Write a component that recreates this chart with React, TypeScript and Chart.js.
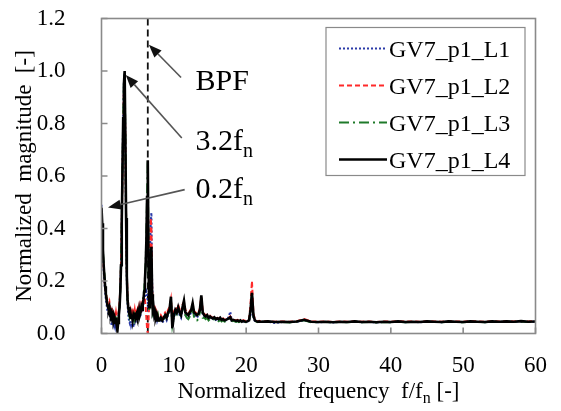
import React, { useEffect, useRef } from "react";
import { Chart, registerables } from "chart.js";

Chart.register(...registerables);

const SERIF = "'Liberation Serif', 'Times New Roman', Times, serif";

// ---------- data ----------
const freqLow = [
  0, 0.1, 0.2, 0.3, 0.4, 0.5, 0.6, 0.7, 0.8, 0.9,
  1.0, 1.1, 1.2, 1.3, 1.4, 1.5, 1.6, 1.7, 1.8, 1.9,
  2.0, 2.1, 2.2, 2.3, 2.4, 2.5, 2.6, 2.7, 2.8, 2.9,
  3.0, 3.1, 3.2, 3.3, 3.4, 3.5, 3.6, 3.7, 3.8, 3.9,
  4.0, 4.1, 4.2, 4.3, 4.4, 4.5, 4.6, 4.7, 4.8, 4.9,
  5.0, 5.1, 5.2, 5.3, 5.4, 5.5, 5.6, 5.7, 5.8, 5.9,
  6.0, 6.1, 6.2, 6.3, 6.4, 6.5, 6.6, 6.7, 6.8, 6.9,
  7.0, 7.1, 7.2, 7.3, 7.4, 7.5, 7.6, 7.7, 7.8, 7.9,
  8.0,
];
const freqMid = [
  8.2, 8.4, 8.6, 8.8, 9.0, 9.2, 9.4, 9.6, 9.8, 10.0,
  10.2, 10.4, 10.6, 10.8, 11.0, 11.2, 11.4, 11.6, 11.8, 12.0,
  12.2, 12.4, 12.6, 12.8, 13.0, 13.2, 13.4, 13.6, 13.8, 14.0,
  14.2, 14.4, 14.6, 14.8, 15.0, 15.2, 15.4, 15.6, 15.8, 16.0,
  16.2, 16.4, 16.6, 16.8, 17.0, 17.2, 17.4, 17.6, 17.8, 18.0,
  18.2, 18.4, 18.6, 18.8, 19.0, 19.2, 19.4, 19.6, 19.8, 20.0,
  20.2, 20.4, 20.6, 20.8, 21.0, 21.2, 21.4, 21.6, 21.8, 22.0,
];
const freqHigh = [
  23, 24, 25, 26, 27, 28, 29, 30, 31, 32,
  33, 34, 35, 36, 37, 38, 39, 40, 41, 42,
  43, 44, 45, 46, 47, 48, 49, 50, 51, 52,
  53, 54, 55, 56, 57, 58, 59, 60,
];

// GV7_p1_L1 (blue dotted)
const l1Low = [
  0.49, 0.40, 0.30, 0.24, 0.20, 0.16, 0.13, 0.11, 0.09, 0.08,
  0.07, 0.08, 0.06, 0.05, 0.03, 0.05, 0.04, 0.03, 0.05, 0.03,
  0.05, 0.04, 0.03, 0.05, 0.08, 0.11, 0.17, 0.27, 0.43, 0.63,
  0.83, 0.96, 0.99, 0.72, 0.42, 0.20, 0.11, 0.07, 0.05, 0.04,
  0.05, 0.03, 0.04, 0.025, 0.03, 0.025, 0.05, 0.04, 0.06, 0.05,
  0.07, 0.06, 0.08, 0.06, 0.07, 0.08, 0.09, 0.10, 0.11, 0.12,
  0.14, 0.15, 0.16, 0.15, 0.12, 0.08, 0.16, 0.30, 0.42, 0.46,
  0.20, 0.10, 0.09, 0.07, 0.08, 0.06, 0.07, 0.05, 0.06, 0.05,
  0.05,
];
const l1Mid = [
  0.05, 0.04, 0.05, 0.06, 0.05, 0.07, 0.08, 0.12, 0.04, 0.06,
  0.08, 0.07, 0.09, 0.07, 0.06, 0.09, 0.11, 0.07, 0.065, 0.06,
  0.07, 0.08, 0.10, 0.07, 0.065, 0.06, 0.07, 0.085, 0.13, 0.07,
  0.065, 0.06, 0.065, 0.055, 0.06, 0.058, 0.055, 0.06, 0.052, 0.055,
  0.05, 0.055, 0.05, 0.052, 0.048, 0.05, 0.054, 0.065, 0.083, 0.05,
  0.05, 0.048, 0.046, 0.048, 0.045, 0.048, 0.044, 0.046, 0.045, 0.044,
  0.046, 0.048, 0.07, 0.12, 0.06, 0.048, 0.045, 0.044, 0.045, 0.044,
];
const l1High = [
  0.045, 0.040, 0.044, 0.043, 0.045, 0.050, 0.044, 0.043, 0.044, 0.042,
  0.044, 0.043, 0.045, 0.043, 0.044, 0.042, 0.044, 0.043, 0.045, 0.043,
  0.044, 0.043, 0.045, 0.044, 0.043, 0.045, 0.044, 0.043, 0.045, 0.044,
  0.043, 0.045, 0.044, 0.045, 0.044, 0.046, 0.044, 0.045,
];

// GV7_p1_L2 (red dashed)
const l2Low = [
  0.45, 0.38, 0.30, 0.25, 0.21, 0.18, 0.16, 0.14, 0.13, 0.12,
  0.11, 0.12, 0.10, 0.09, 0.10, 0.08, 0.09, 0.07, 0.08, 0.06,
  0.08, 0.06, 0.05, 0.07, 0.09, 0.12, 0.17, 0.27, 0.42, 0.60,
  0.80, 0.93, 0.97, 0.73, 0.45, 0.24, 0.14, 0.11, 0.09, 0.08,
  0.09, 0.07, 0.08, 0.06, 0.08, 0.07, 0.09, 0.07, 0.08, 0.07,
  0.09, 0.08, 0.10, 0.08, 0.09, 0.11, 0.10, 0.12, 0.13, 0.14,
  0.13, 0.10, 0.06, 0.02, 0.00, 0.04, 0.16, 0.32, 0.44, 0.40,
  0.18, 0.09, 0.11, 0.08, 0.09, 0.07, 0.08, 0.06, 0.07, 0.06,
  0.06,
];
const l2Mid = [
  0.07, 0.06, 0.07, 0.08, 0.07, 0.09, 0.10, 0.13, 0.05, 0.08,
  0.10, 0.09, 0.11, 0.09, 0.08, 0.11, 0.12, 0.09, 0.08, 0.075,
  0.085, 0.095, 0.11, 0.085, 0.08, 0.075, 0.08, 0.095, 0.14, 0.085,
  0.075, 0.07, 0.072, 0.065, 0.068, 0.062, 0.06, 0.064, 0.058, 0.06,
  0.056, 0.062, 0.054, 0.057, 0.052, 0.055, 0.057, 0.06, 0.065, 0.053,
  0.054, 0.052, 0.05, 0.052, 0.049, 0.052, 0.048, 0.05, 0.049, 0.047,
  0.049, 0.055, 0.11, 0.20, 0.08, 0.052, 0.048, 0.047, 0.048, 0.046,
];
const l2High = [
  0.047, 0.045, 0.046, 0.045, 0.047, 0.055, 0.046, 0.045, 0.046, 0.044,
  0.046, 0.045, 0.047, 0.045, 0.046, 0.044, 0.046, 0.045, 0.047, 0.045,
  0.046, 0.045, 0.047, 0.046, 0.045, 0.047, 0.046, 0.045, 0.047, 0.046,
  0.045, 0.047, 0.046, 0.047, 0.046, 0.048, 0.046, 0.047,
];

// GV7_p1_L3 (green dash-dot)
const l3Low = [
  0.46, 0.41, 0.31, 0.27, 0.23, 0.19, 0.16, 0.13, 0.12, 0.10,
  0.10, 0.09, 0.09, 0.08, 0.07, 0.07, 0.06, 0.06, 0.05, 0.05,
  0.07, 0.05, 0.03, 0.05, 0.08, 0.11, 0.17, 0.27, 0.43, 0.63,
  0.83, 0.96, 0.99, 0.75, 0.45, 0.23, 0.13, 0.09, 0.07, 0.06,
  0.07, 0.05, 0.06, 0.05, 0.06, 0.05, 0.07, 0.06, 0.06, 0.06,
  0.07, 0.07, 0.08, 0.08, 0.09, 0.09, 0.10, 0.12, 0.14, 0.17,
  0.21, 0.27, 0.36, 0.53, 0.66, 0.27, 0.09, 0.12, 0.22, 0.28,
  0.14, 0.08, 0.09, 0.08, 0.07, 0.07, 0.06, 0.06, 0.07, 0.05,
  0.05,
];
const l3Mid = [
  0.06, 0.05, 0.055, 0.065, 0.06, 0.075, 0.085, 0.13, 0.03, 0.06,
  0.085, 0.075, 0.095, 0.075, 0.065, 0.09, 0.115, 0.07, 0.06, 0.055,
  0.065, 0.07, 0.10, 0.06, 0.05, 0.05, 0.055, 0.08, 0.14, 0.06,
  0.06, 0.055, 0.06, 0.05, 0.055, 0.052, 0.05, 0.055, 0.048, 0.05,
  0.047, 0.052, 0.046, 0.05, 0.045, 0.047, 0.05, 0.055, 0.06, 0.046,
  0.048, 0.046, 0.044, 0.046, 0.043, 0.046, 0.042, 0.045, 0.044, 0.043,
  0.045, 0.048, 0.085, 0.15, 0.065, 0.048, 0.045, 0.043, 0.045, 0.044,
];
const l3High = [
  0.045, 0.043, 0.044, 0.042, 0.045, 0.050, 0.043, 0.043, 0.044, 0.042,
  0.044, 0.043, 0.045, 0.043, 0.044, 0.042, 0.044, 0.043, 0.045, 0.043,
  0.044, 0.043, 0.045, 0.044, 0.043, 0.045, 0.044, 0.043, 0.045, 0.044,
  0.043, 0.045, 0.044, 0.045, 0.044, 0.046, 0.044, 0.045,
];

// GV7_p1_L4 (black solid)
const l4Low = [
  0.48, 0.42, 0.32, 0.26, 0.22, 0.18, 0.15, 0.13, 0.11, 0.10,
  0.09, 0.10, 0.08, 0.07, 0.08, 0.06, 0.07, 0.05, 0.06, 0.04,
  0.06, 0.03, 0.01, 0.04, 0.07, 0.10, 0.16, 0.26, 0.42, 0.62,
  0.82, 0.95, 1.00, 0.74, 0.44, 0.22, 0.13, 0.10, 0.08, 0.07,
  0.08, 0.06, 0.07, 0.05, 0.07, 0.06, 0.08, 0.06, 0.07, 0.06,
  0.08, 0.07, 0.09, 0.07, 0.08, 0.10, 0.09, 0.11, 0.13, 0.16,
  0.20, 0.26, 0.35, 0.52, 0.66, 0.28, 0.10, 0.15, 0.27, 0.33,
  0.15, 0.09, 0.10, 0.07, 0.08, 0.06, 0.07, 0.05, 0.06, 0.05,
  0.05,
];
const l4Mid = [
  0.06, 0.05, 0.06, 0.07, 0.06, 0.08, 0.09, 0.14, 0.02, 0.07,
  0.09, 0.08, 0.10, 0.08, 0.07, 0.10, 0.125, 0.08, 0.075, 0.07,
  0.08, 0.09, 0.115, 0.08, 0.075, 0.07, 0.075, 0.09, 0.145, 0.08,
  0.07, 0.065, 0.07, 0.06, 0.065, 0.06, 0.058, 0.062, 0.055, 0.058,
  0.055, 0.06, 0.052, 0.055, 0.05, 0.052, 0.055, 0.058, 0.062, 0.05,
  0.052, 0.05, 0.048, 0.05, 0.047, 0.05, 0.045, 0.048, 0.046, 0.045,
  0.047, 0.05, 0.09, 0.155, 0.07, 0.05, 0.047, 0.045, 0.046, 0.045,
];
const l4High = [
  0.046, 0.044, 0.045, 0.044, 0.046, 0.052, 0.045, 0.044, 0.045, 0.043,
  0.045, 0.044, 0.046, 0.044, 0.045, 0.043, 0.045, 0.044, 0.046, 0.044,
  0.045, 0.044, 0.046, 0.045, 0.044, 0.046, 0.045, 0.044, 0.046, 0.045,
  0.044, 0.046, 0.045, 0.046, 0.045, 0.047, 0.045, 0.046,
];

const seriesLabels = ["GV7_p1_L1", "GV7_p1_L2", "GV7_p1_L3", "GV7_p1_L4"];

// axis ranges
const X_MIN = 0;
const X_MAX = 60;
const X_STEP = 10;
const Y_MIN = 0;
const Y_MAX = 1.2;
const Y_STEP = 0.2;

// blade passing frequency marker (f/fn)
const BPF_VALUE = 6.4;

// annotations, in data coordinates: arrow head, arrow tail, text anchor
const annotations = [
  { main: "BPF", sub: "", head: [6.55, 1.1], tail: [11.0, 0.975], text: [13.0, 0.966] },
  { main: "3.2f", sub: "n", head: [3.35, 0.985], tail: [11.1, 0.745], text: [13.0, 0.737] },
  { main: "0.2f", sub: "n", head: [0.9, 0.48], tail: [11.5, 0.548], text: [13.0, 0.554] },
];

// ---------- styles ----------
const styles = [
  { color: "#2b3aa8", dash: [2, 2], width: 2 },
  { color: "#ff2a2a", dash: [5, 3], width: 2 },
  { color: "#1f7a2a", dash: [10, 4, 2, 4], width: 2 },
  { color: "#000000", dash: [], width: 2.6 },
];

const freq = [...freqLow, ...freqMid, ...freqHigh];
const seriesValues = [
  [...l1Low, ...l1Mid, ...l1High],
  [...l2Low, ...l2Mid, ...l2High],
  [...l3Low, ...l3Mid, ...l3High],
  [...l4Low, ...l4Mid, ...l4High],
];

function drawSubText(ctx: CanvasRenderingContext2D, x: number, yBase: number, main: string, sub: string, rest: string, size: number, draw = true) {
  let w = 0;
  ctx.font = `${size}px ${SERIF}`;
  if (draw) ctx.fillText(main, x, yBase);
  w += ctx.measureText(main).width;
  if (sub) {
    const s = Math.round(size * 0.68);
    ctx.font = `${s}px ${SERIF}`;
    if (draw) ctx.fillText(sub, x + w, yBase + size * 0.22);
    w += ctx.measureText(sub).width;
  }
  if (rest) {
    ctx.font = `${size}px ${SERIF}`;
    if (draw) ctx.fillText(rest, x + w, yBase);
    w += ctx.measureText(rest).width;
  }
  return w;
}

function drawArrow(ctx: CanvasRenderingContext2D, tx: number, ty: number, hx: number, hy: number) {
  const a = Math.atan2(hy - ty, hx - tx);
  const len = 13;
  const hw = 5;
  const bx = hx - len * Math.cos(a);
  const by = hy - len * Math.sin(a);
  ctx.save();
  ctx.strokeStyle = "#555";
  ctx.lineWidth = 1.6;
  ctx.setLineDash([]);
  ctx.beginPath();
  ctx.moveTo(tx, ty);
  ctx.lineTo(bx, by);
  ctx.stroke();
  ctx.fillStyle = "#111";
  ctx.beginPath();
  ctx.moveTo(hx, hy);
  ctx.lineTo(bx + hw * Math.sin(a), by - hw * Math.cos(a));
  ctx.lineTo(bx - hw * Math.sin(a), by + hw * Math.cos(a));
  ctx.closePath();
  ctx.fill();
  ctx.restore();
}

const decorPlugin = {
  id: "decor",
  beforeDatasetsDraw(chart: any) {
    const { ctx, chartArea: ca, scales } = chart;
    const x = scales.x.getPixelForValue(BPF_VALUE);
    ctx.save();
    ctx.beginPath();
    ctx.setLineDash([7, 4]);
    ctx.lineWidth = 1.8;
    ctx.strokeStyle = "#111";
    ctx.moveTo(x, ca.bottom);
    ctx.lineTo(x, ca.top);
    ctx.stroke();
    ctx.restore();
  },
  afterDraw(chart: any) {
    const { ctx, chartArea: ca, scales } = chart;
    const xs = scales.x;
    const ys = scales.y;
    ctx.save();
    // frame
    ctx.strokeStyle = "#8a8a8a";
    ctx.lineWidth = 1.6;
    ctx.setLineDash([]);
    ctx.strokeRect(ca.left, ca.top, ca.right - ca.left, ca.bottom - ca.top);
    // inward ticks
    ctx.beginPath();
    ys.ticks.forEach((t: any) => {
      const py = ys.getPixelForValue(t.value);
      ctx.moveTo(ca.left, py);
      ctx.lineTo(ca.left + 6, py);
    });
    xs.ticks.forEach((t: any) => {
      const px = xs.getPixelForValue(t.value);
      ctx.moveTo(px, ca.bottom);
      ctx.lineTo(px, ca.bottom - 6);
    });
    ctx.stroke();

    // annotations
    ctx.fillStyle = "#000";
    ctx.textAlign = "left";
    ctx.textBaseline = "alphabetic";
    annotations.forEach((an) => {
      const hx = xs.getPixelForValue(an.head[0]);
      const hy = ys.getPixelForValue(an.head[1]);
      const tx = xs.getPixelForValue(an.tail[0]);
      const ty = ys.getPixelForValue(an.tail[1]);
      drawArrow(ctx, tx, ty, hx, hy);
      const px = xs.getPixelForValue(an.text[0]);
      const py = ys.getPixelForValue(an.text[1]);
      ctx.fillStyle = "#000";
      drawSubText(ctx, px, py + 10, an.main, an.sub, "", 30);
    });

    // legend
    const boxW = 199;
    const boxH = 148;
    const bx = ca.right - 10.5 - boxW;
    const by = ca.top + 9;
    ctx.fillStyle = "#fff";
    ctx.fillRect(bx, by, boxW, boxH);
    ctx.strokeStyle = "#8a8a8a";
    ctx.lineWidth = 1.2;
    ctx.strokeRect(bx, by, boxW, boxH);
    chart.data.datasets.forEach((ds: any, i: number) => {
      const cy = by + 21 + i * 37;
      ctx.beginPath();
      ctx.strokeStyle = ds.borderColor;
      ctx.lineWidth = ds.borderWidth;
      ctx.setLineDash(ds.borderDash || []);
      ctx.moveTo(bx + 13, cy);
      ctx.lineTo(bx + 61, cy);
      ctx.stroke();
      ctx.setLineDash([]);
      ctx.fillStyle = "#000";
      ctx.font = `24px ${SERIF}`;
      ctx.textBaseline = "alphabetic";
      ctx.fillText(ds.label, bx + 63, cy + 8);
    });

    // x title
    ctx.fillStyle = "#000";
    const xMain = "Normalized  frequency  f/f";
    const w = drawSubText(ctx, 0, 0, xMain, "n", " [-]", 23, false);
    const cx = (ca.left + ca.right) / 2;
    drawSubText(ctx, cx - w / 2, 398, xMain, "n", " [-]", 23, true);

    // y title
    ctx.save();
    ctx.translate(31, (ca.top + ca.bottom) / 2);
    ctx.rotate(-Math.PI / 2);
    ctx.font = `23px ${SERIF}`;
    ctx.textAlign = "center";
    ctx.fillText("Normalized  magnitude  [-]", 0, 0);
    ctx.restore();

    ctx.restore();
  },
};

export default function App() {
  const ref = useRef<HTMLCanvasElement | null>(null);
  useEffect(() => {
    if (!ref.current) return;
    const datasets = seriesLabels.map((label, i) => ({
      label,
      data: freq.map((f, k) => ({ x: f, y: seriesValues[i][k] })),
      borderColor: styles[i].color,
      borderDash: styles[i].dash,
      borderWidth: styles[i].width,
      pointRadius: 0,
      tension: 0,
      fill: false,
      order: 3 - i,
    }));
    const chart = new Chart(ref.current, {
      type: "line",
      data: { datasets },
      options: {
        animation: false,
        responsive: false,
        layout: { padding: { left: 0, top: 18.5, right: 25.5, bottom: 0 } },
        plugins: { legend: { display: false }, tooltip: { enabled: false } },
        scales: {
          x: {
            type: "linear",
            min: X_MIN,
            max: X_MAX,
            grid: { display: false },
            border: { display: false },
            ticks: {
              stepSize: X_STEP,
              color: "#000",
              padding: 11,
              maxRotation: 0,
              font: { family: SERIF, size: 23 },
            },
            afterFit: (s: any) => {
              s.height = 77.5;
              s.paddingLeft = 0;
              s.paddingRight = 0;
            },
          },
          y: {
            type: "linear",
            min: Y_MIN,
            max: Y_MAX,
            grid: { display: false },
            border: { display: false },
            ticks: {
              stepSize: Y_STEP,
              color: "#000",
              padding: 28,
              font: { family: SERIF, size: 23 },
              callback: (v: any) => Number(v).toFixed(1),
            },
            afterFit: (s: any) => {
              s.width = 101.5;
              s.paddingTop = 0;
              s.paddingBottom = 0;
            },
          },
        },
      },
      plugins: [decorPlugin],
    } as any);
    return () => chart.destroy();
  }, []);
  return (
    <div style={{ position: "absolute", left: 0, top: 0, width: 561, height: 411 }}>
      <canvas ref={ref} width={561} height={411} style={{ display: "block" }} />
    </div>
  );
}
